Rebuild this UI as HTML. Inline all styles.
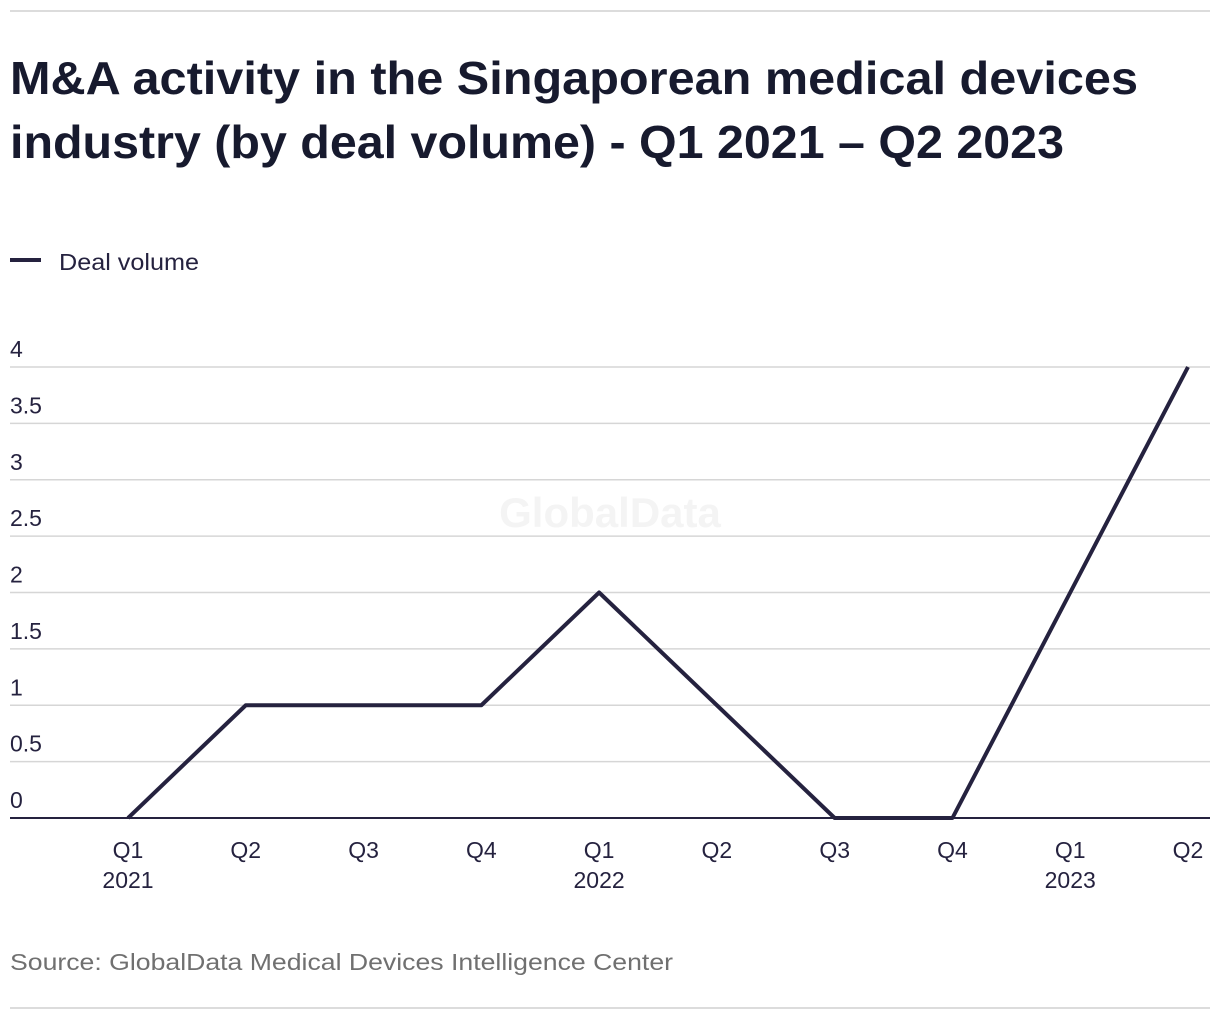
<!DOCTYPE html>
<html><head><meta charset="utf-8">
<style>
html,body{margin:0;padding:0;background:#fff;width:1220px;height:1020px;overflow:hidden;font-family:"Liberation Sans",sans-serif;}
</style></head>
<body>
<svg width="1220" height="1020" xmlns="http://www.w3.org/2000/svg">
<line x1="10" y1="11" x2="1210" y2="11" stroke="#dcdcdc" stroke-width="2"/>
<text x="10" y="94" font-size="46" font-weight="bold" fill="#171a2e" textLength="1128" lengthAdjust="spacingAndGlyphs">M&amp;A activity in the Singaporean medical devices</text>
<text x="10" y="158" font-size="46" font-weight="bold" fill="#171a2e" textLength="1054" lengthAdjust="spacingAndGlyphs">industry (by deal volume) - Q1 2021 – Q2 2023</text>
<g>
<line x1="10" y1="260" x2="41" y2="260" stroke="#25223f" stroke-width="4"/>
<text x="59" y="270" font-size="23" fill="#25223f" textLength="140" lengthAdjust="spacingAndGlyphs">Deal volume</text>
</g>
<text x="610" y="527" font-size="42" font-weight="bold" fill="#f4f4f4" text-anchor="middle">GlobalData</text>
<g id="grid"></g>
<g id="xl"></g>
<path id="ln" fill="none" stroke="#25223f" stroke-width="4" stroke-linejoin="round"/>
<text x="10" y="970" font-size="23" fill="#707070" textLength="663" lengthAdjust="spacingAndGlyphs">Source: GlobalData Medical Devices Intelligence Center</text>
<line x1="10" y1="1008" x2="1210" y2="1008" stroke="#dcdcdc" stroke-width="2"/>
</svg>
<script>
const quarters=["Q1","Q2","Q3","Q4","Q1","Q2","Q3","Q4","Q1","Q2"];
const years=["2021","","","","2022","","","","2023",""];
const values=[0,1,1,1,2,1,0,0,2,4];
const yTicks=[0,0.5,1,1.5,2,2.5,3,3.5,4];
const NS="http://www.w3.org/2000/svg";
function y(v){return 818-v*(818-367)/4;}
function x(i){return 128+i*(1188-128)/(quarters.length-1);}
const grid=document.getElementById('grid');
yTicks.forEach(t=>{
  const l=document.createElementNS(NS,'line');
  l.setAttribute('x1',10);l.setAttribute('x2',1210);
  l.setAttribute('y1',y(t));l.setAttribute('y2',y(t));
  l.setAttribute('stroke',t===0?'#25223f':'#d6d6d6');
  l.setAttribute('stroke-width',t===0?2:1.5);
  
  
  grid.appendChild(l);
  const tx=document.createElementNS(NS,'text');
  tx.setAttribute('x',10);tx.setAttribute('y',y(t)-10);
  tx.setAttribute('font-size',23);tx.setAttribute('fill','#25223f');
  tx.textContent=String(t);
  
  
  grid.appendChild(tx);
});
const xl=document.getElementById('xl');
quarters.forEach((q,i)=>{
  const t=document.createElementNS(NS,'text');
  t.setAttribute('x',x(i));t.setAttribute('y',858);
  t.setAttribute('text-anchor','middle');t.setAttribute('font-size',23);t.setAttribute('fill','#25223f');
  t.textContent=q;
  
  
  xl.appendChild(t);
  if(years[i]){
    const t2=document.createElementNS(NS,'text');
    t2.setAttribute('x',x(i));t2.setAttribute('y',888);
    t2.setAttribute('text-anchor','middle');t2.setAttribute('font-size',23);t2.setAttribute('fill','#25223f');
    t2.textContent=years[i];
    
    
    xl.appendChild(t2);
  }
});
document.getElementById('ln').setAttribute('d',values.map((v,i)=>(i?'L':'M')+x(i)+','+y(v)).join(' '));
</script>
</body></html>
